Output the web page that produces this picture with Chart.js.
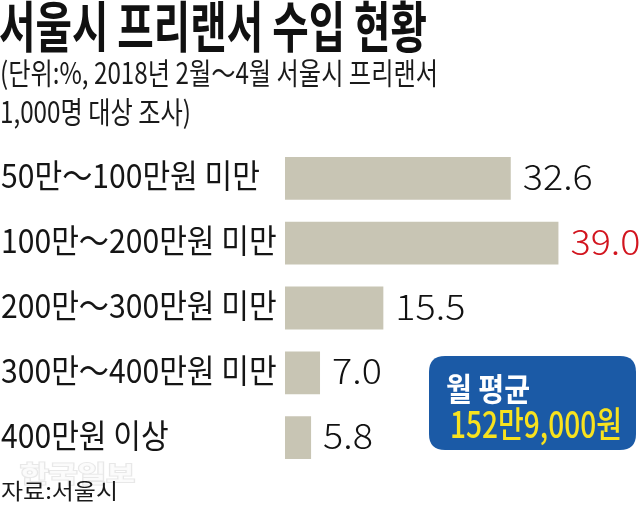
<!DOCTYPE html>
<html>
<head>
<meta charset="utf-8">
<script src="https://cdn.jsdelivr.net/npm/chart.js@4/dist/chart.umd.min.js"></script>
<style>
  html, body { margin: 0; padding: 0; background: #ffffff; }
  #c { display: block; }
</style>
</head>
<body>
<canvas id="c" width="640" height="510"></canvas>
<script>
// Income brackets of Seoul freelancers and the share (%) in each
const categories = ['50만～100만원 미만', '100만～200만원 미만', '200만～300만원 미만', '300만～400만원 미만', '400만원 이상'];
const shares = [32.6, 39.0, 15.5, 7.0, 5.8];
const valueLabels = ['32.6', '39.0', '15.5', '7.0', '5.8'];
const highlightIndex = 1;

const titleText = '서울시 프리랜서 수입 현황';
const subtitleLines = ['(단위:%, 2018년 2월～4월 서울시 프리랜서', '1,000명 대상 조사)'];
const averageLines = ['월 평균', '152만9,000원'];
const sourceText = '자료:서울시';
const watermarkText = '한국일보';

const KR = '"Noto Sans CJK KR", "Noto Sans", sans-serif';

// Draw text squeezed horizontally by factor sx
function drawScaled(ctx, text, x, y, font, color, sx, align, baseline) {
  ctx.save();
  ctx.font = font;
  ctx.translate(x, y);
  ctx.scale(sx, 1);
  ctx.textAlign = align || 'left';
  ctx.textBaseline = baseline || 'alphabetic';
  ctx.fillStyle = color;
  ctx.fillText(text, 0, 0);
  ctx.restore();
}
// Horizontal factor that makes text span the given width
function fitFactor(ctx, text, font, width) {
  ctx.save();
  ctx.font = font;
  const w = ctx.measureText(text).width;
  ctx.restore();
  return width / w;
}
function roundRectPath(ctx, x, y, w, h, r) {
  ctx.beginPath();
  ctx.moveTo(x + r, y);
  ctx.lineTo(x + w - r, y);
  ctx.quadraticCurveTo(x + w, y, x + w, y + r);
  ctx.lineTo(x + w, y + h - r);
  ctx.quadraticCurveTo(x + w, y + h, x + w - r, y + h);
  ctx.lineTo(x + r, y + h);
  ctx.quadraticCurveTo(x, y + h, x, y + h - r);
  ctx.lineTo(x, y + r);
  ctx.quadraticCurveTo(x, y, x + r, y);
  ctx.closePath();
}

const annotationPlugin = {
  id: 'annotations',
  afterDraw(chart) {
    const ctx = chart.ctx;
    const yScale = chart.scales.y;
    const bars = chart.getDatasetMeta(0).data;

    // Title
    const titleFont = `700 55px ${KR}`;
    drawScaled(ctx, titleText, -1, 26, titleFont, '#111111',
      fitFactor(ctx, titleText, titleFont, 428), 'left', 'middle');

    // Subtitle (unit and survey note)
    const subFont = `400 30px ${KR}`;
    const subSx = fitFactor(ctx, subtitleLines[0], subFont, 438);
    drawScaled(ctx, subtitleLines[0], 0, 73, subFont, '#1a1a1a', subSx, 'left', 'middle');
    drawScaled(ctx, subtitleLines[1], 0, 112, subFont, '#1a1a1a', subSx, 'left', 'middle');

    // Category labels at the left, aligned with each bar
    const catFont = `400 33px ${KR}`;
    const catSx = fitFactor(ctx, categories[0], catFont, 259);
    categories.forEach((label, i) => {
      const y = yScale.getPixelForValue(i);
      drawScaled(ctx, label, 1, y + 10, catFont, '#151515', catSx);
    });

    // Value labels right of each bar
    const valFont = `300 35px ${KR}`;
    const valSx = fitFactor(ctx, valueLabels[0], valFont, 70);
    bars.forEach((bar, i) => {
      const color = i === highlightIndex ? '#d2141e' : '#111111';
      drawScaled(ctx, valueLabels[i], bar.x + 12, bar.y + 11.5, valFont, color, valSx);
    });

    // Monthly average box
    ctx.save();
    roundRectPath(ctx, 429, 356, 207, 94, 16);
    ctx.fillStyle = '#1b5aa6';
    ctx.fill();
    ctx.restore();
    const boxFont1 = `700 32px ${KR}`;
    drawScaled(ctx, averageLines[0], 446, 389, boxFont1, '#ffffff',
      fitFactor(ctx, averageLines[0], boxFont1, 84), 'left', 'middle');
    const boxFont2 = `500 36px ${KR}`;
    drawScaled(ctx, averageLines[1], 450, 424, boxFont2, '#f8e21e',
      fitFactor(ctx, averageLines[1], boxFont2, 172), 'left', 'middle');

    // Faint publisher mark
    const wmFont = `700 23px ${KR}`;
    ctx.save();
    ctx.font = wmFont;
    ctx.translate(20, 473);
    ctx.scale(fitFactor(ctx, watermarkText, wmFont, 115), 1);
    ctx.textBaseline = 'middle';
    ctx.lineWidth = 2;
    ctx.strokeStyle = 'rgba(205,205,205,0.45)';
    ctx.strokeText(watermarkText, 0, 0);
    ctx.fillStyle = 'rgba(252,252,252,0.95)';
    ctx.fillText(watermarkText, 0, 0);
    ctx.restore();

    // Source
    const srcFont = `400 22px ${KR}`;
    drawScaled(ctx, sourceText, 1, 491, srcFont, '#1a1a1a',
      fitFactor(ctx, sourceText, srcFont, 117), 'left', 'middle');
  }
};

new Chart(document.getElementById('c'), {
  type: 'bar',
  data: {
    labels: categories,
    datasets: [{
      data: shares,
      backgroundColor: '#c8c5b4',
      borderWidth: 0,
      barPercentage: 0.66,
      categoryPercentage: 1
    }]
  },
  options: {
    indexAxis: 'y',
    responsive: false,
    animation: false,
    layout: { padding: { left: 285, right: 14.5, top: 146, bottom: 40 } },
    plugins: {
      legend: { display: false },
      tooltip: { enabled: false },
      title: { display: false }
    },
    scales: {
      x: { display: false, min: 2.3, max: 48 },
      y: { display: false }
    }
  },
  plugins: [annotationPlugin]
});
</script>
</body>
</html>
